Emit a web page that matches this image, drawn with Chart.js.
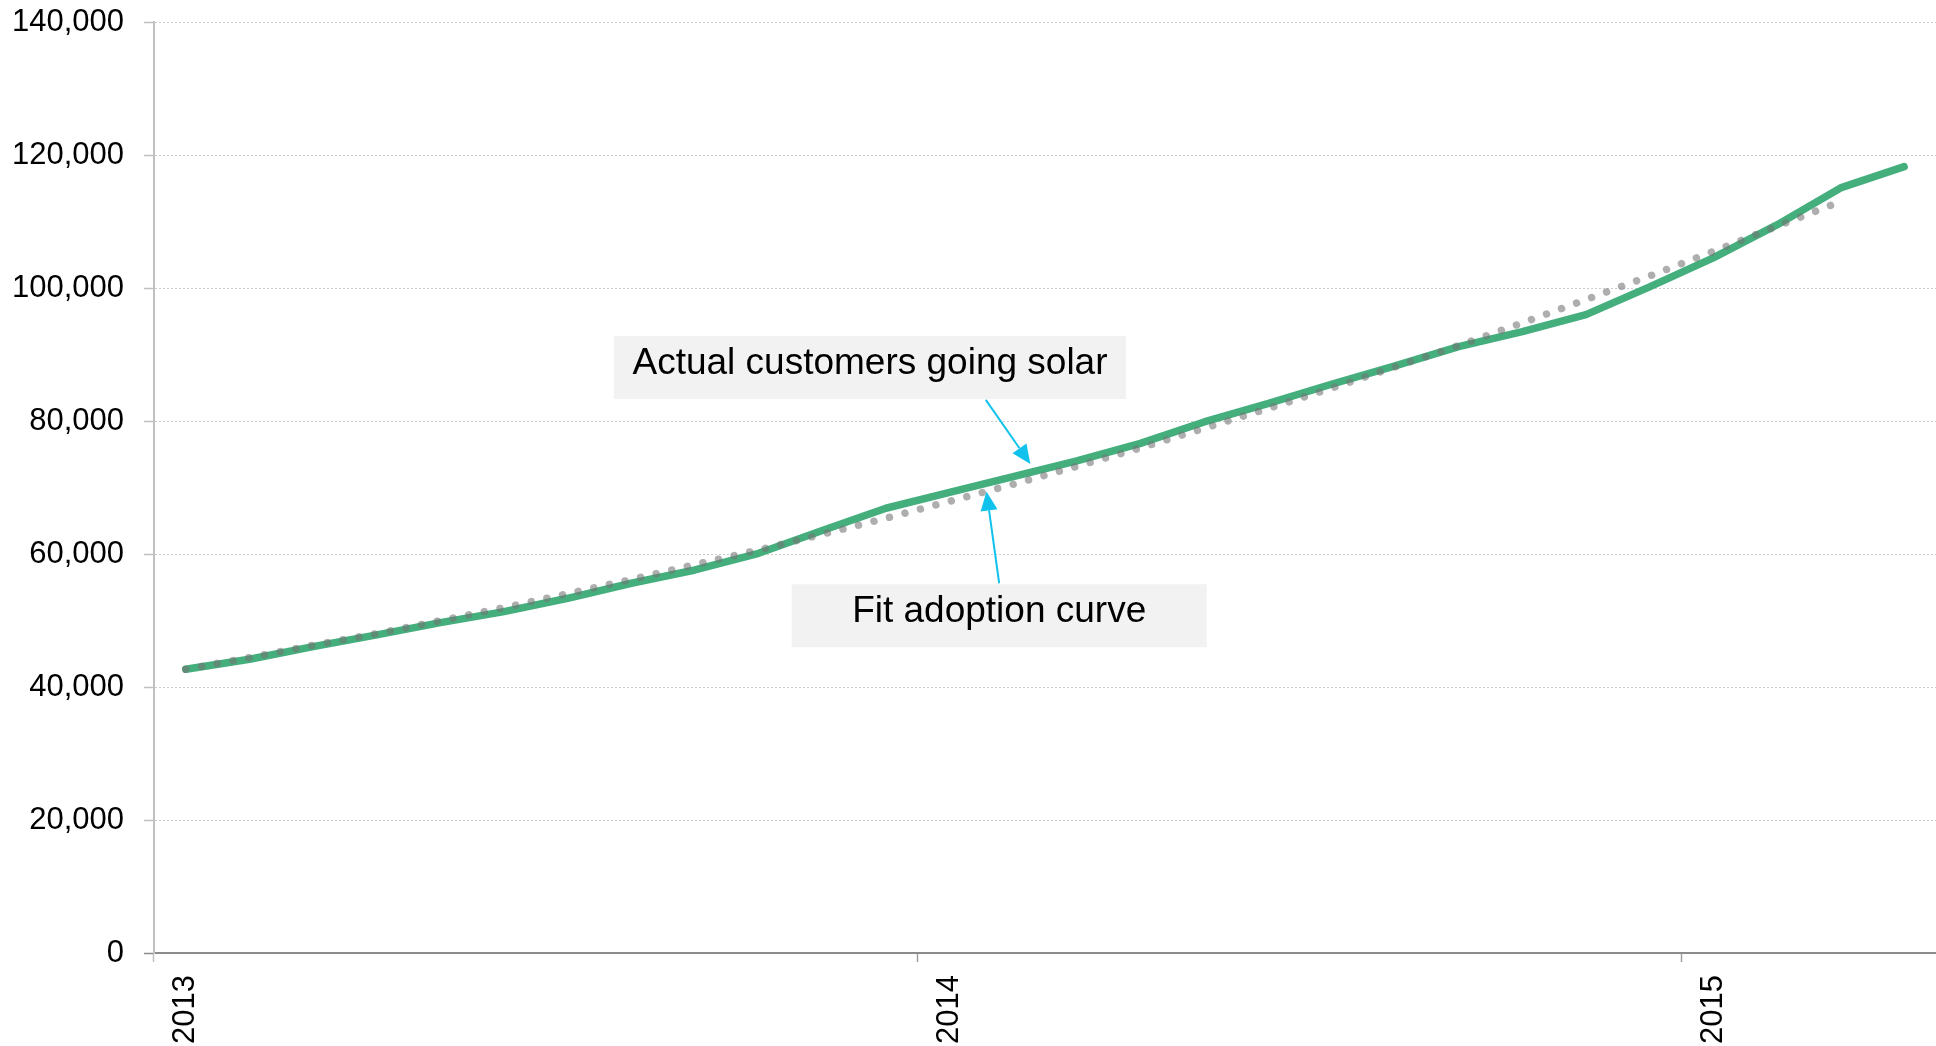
<!DOCTYPE html>
<html>
<head>
<meta charset="utf-8">
<script src="https://cdn.jsdelivr.net/npm/chart.js@4.4.1/dist/chart.umd.min.js"></script>
<style>
  html, body { margin: 0; padding: 0; background: #fff; }
  canvas { display: block; }
</style>
</head>
<body>
<canvas id="chart" width="1936" height="1046"></canvas>
<script>
// monthly categories, Jan 2013 .. Apr 2015
const months = [
  '2013-01', '2013-02', '2013-03', '2013-04', '2013-05', '2013-06',
  '2013-07', '2013-08', '2013-09', '2013-10', '2013-11', '2013-12',
  '2014-01', '2014-02', '2014-03', '2014-04', '2014-05', '2014-06',
  '2014-07', '2014-08', '2014-09', '2014-10', '2014-11', '2014-12',
  '2015-01', '2015-02', '2015-03', '2015-04',
];

// cumulative customers going solar
const actualCustomers = [
  42670, 44170, 46070, 47830, 49680, 51330, 53340, 55600, 57600, 60110, 63530, 66880,
  69260, 71640, 74000, 76630, 79860, 82620, 85530, 88280, 91190, 93450, 96000, 100170,
  104530, 109490, 115050, 118260,
];

// fitted adoption curve (dotted)
const fitCurve = [
  42670, 44420, 46280, 48030, 49980, 51940, 54040, 56150, 58400, 60610, 62970, 65380,
  67930, 70490, 73200, 75950, 78910, 81860, 84930, 88130, 91340, 94750, 98260, 101800,
  105490, 109280, 113000, null,
];

const yTicks = [0, 20000, 40000, 60000, 80000, 100000, 120000, 140000];

// callouts, anchored in data space (category index, value)
const callouts = [
  { text: 'Actual customers going solar', x: 10.75, y: 88030, w: 512, h: 63,
    from: [12.57, 83170], to: [13.27, 73550] },
  { text: 'Fit adoption curve', x: 12.78, y: 50710, w: 415, h: 63,
    from: [12.78, 55600], to: [12.58, 69380] },
];

const FONT = '"Liberation Sans", Arial, sans-serif';
const GREEN = '#44af7d';
const CYAN = '#10c2ec';

const calloutPlugin = {
  id: 'callouts',
  afterDatasetsDraw(chart) {
    const { ctx, scales: { x, y } } = chart;
    ctx.save();
    callouts.forEach((c) => {
      const cx = x.getPixelForValue(c.x);
      const cy = y.getPixelForValue(c.y);
      ctx.fillStyle = '#f2f2f2';
      ctx.fillRect(cx - c.w / 2, cy - c.h / 2, c.w, c.h);
      ctx.fillStyle = '#000';
      ctx.font = '37px ' + FONT;
      ctx.textAlign = 'center';
      ctx.textBaseline = 'alphabetic';
      ctx.fillText(c.text, cx, cy + 6);

      // arrow
      const x1 = x.getPixelForValue(c.from[0]), y1 = y.getPixelForValue(c.from[1]);
      const x2 = x.getPixelForValue(c.to[0]),   y2 = y.getPixelForValue(c.to[1]);
      const ang = Math.atan2(y2 - y1, x2 - x1);
      const headLen = 19, headW = 8.5;
      const bx = x2 - headLen * Math.cos(ang), by = y2 - headLen * Math.sin(ang);
      ctx.strokeStyle = CYAN;
      ctx.lineWidth = 2;
      ctx.beginPath();
      ctx.moveTo(x1, y1);
      ctx.lineTo(bx, by);
      ctx.stroke();
      ctx.fillStyle = CYAN;
      ctx.beginPath();
      ctx.moveTo(x2, y2);
      ctx.lineTo(bx + headW * Math.sin(ang), by - headW * Math.cos(ang));
      ctx.lineTo(bx - headW * Math.sin(ang), by + headW * Math.cos(ang));
      ctx.closePath();
      ctx.fill();
    });
    ctx.restore();
  },
};

new Chart(document.getElementById('chart'), {
  type: 'line',
  data: {
    labels: months,
    datasets: [
      {
        label: 'Fit adoption curve',
        data: fitCurve,
        borderColor: 'rgba(115,115,115,0.58)',
        borderWidth: 7.5,
        borderDash: [0.001, 16],
        borderCapStyle: 'round',
        pointRadius: 0,
        tension: 0,
        fill: false,
      },
      {
        label: 'Actual customers going solar',
        data: actualCustomers,
        borderColor: GREEN,
        borderWidth: 7.5,
        borderCapStyle: 'round',
        borderJoinStyle: 'round',
        pointRadius: 0,
        tension: 0,
        fill: false,
      },
    ],
  },
  options: {
    responsive: false,
    animation: false,
    layout: { padding: { top: 22, right: -4, bottom: 0, left: 0 } },
    plugins: {
      legend: { display: false },
      tooltip: { enabled: false },
    },
    scales: {
      x: {
        type: 'category',
        offset: true,
        grid: {
          offset: true,
          drawOnChartArea: false,
          drawTicks: true,
          tickLength: 9,
          tickWidth: 1.5,
          tickColor: (c) => {
            if (c.type !== 'tick') return 'rgba(0,0,0,0)';
            if (c.index === 0) return '#c0c0c0';
            return c.index % 12 === 0 ? '#a0a0a0' : 'rgba(0,0,0,0)';
          },
        },
        border: { display: true, color: '#8c8c8c', width: 1.5 },
        ticks: {
          autoSkip: false,
          minRotation: 90,
          maxRotation: 90,
          padding: 13,
          color: '#000',
          font: { family: FONT, size: 31 },
          callback: (v, i) => (months[i].endsWith('-01') ? months[i].slice(0, 4) : ''),
        },
        afterFit: (s) => { s.height = 93; s.paddingLeft = 0; s.paddingRight = 0; },
      },
      y: {
        min: yTicks[0],
        max: yTicks[yTicks.length - 1],
        afterBuildTicks: (s) => { s.ticks = yTicks.map((v) => ({ value: v })); },
        grid: {
          color: (c) => (c.tick && c.tick.value === 0 ? '#8c8c8c' : '#cccccc'),
          lineWidth: 1,
          tickLength: 10,
          tickColor: (c) => (c.tick && c.tick.value === 0 ? '#8c8c8c' : '#c0c0c0'),
          tickWidth: 1.5,
          tickBorderDash: [],
        },
        border: {
          display: true,
          color: '#c0c0c0',
          width: 2,
          dash: (c) => (c.tick && c.tick.value !== 0 ? [2, 2] : []),
        },
        ticks: {
          padding: 20,
          color: '#000',
          font: { family: FONT, size: 31 },
          callback: (v) => v.toLocaleString('en-US'),
        },
        afterFit: (s) => { s.width = 154; s.paddingTop = 0; s.paddingBottom = 0; },
      },
    },
  },
  plugins: [calloutPlugin],
});
</script>
</body>
</html>
